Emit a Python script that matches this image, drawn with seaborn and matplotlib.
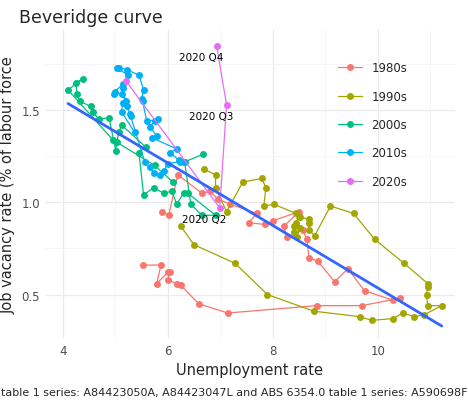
import numpy as np
import pandas as pd
import matplotlib
matplotlib.use("Agg")
import matplotlib.pyplot as plt
import seaborn as sns

# quarterly unemployment rate (%) and job vacancy rate (% of labour force)
u_1980s = [5.52, 5.87, 5.79, 6.0, 6.04, 6.0, 6.17, 6.25, 6.59, 7.14, 8.84, 9.70, 10.42, 10.29,
           9.75, 9.43, 9.18, 8.86, 8.69, 8.65, 8.57, 8.27, 8.21, 8.50, 8.0, 7.85, 7.54, 7.70,
           7.18, 6.95, 6.80, 6.65, 6.19, 6.02, 5.89]
v_1980s = [0.66, 0.66, 0.56, 0.62, 0.62, 0.58, 0.56, 0.55, 0.45, 0.40, 0.44, 0.44, 0.48, 0.47,
           0.52, 0.64, 0.57, 0.68, 0.70, 0.80, 0.85, 0.81, 0.87, 0.95, 0.90, 0.88, 0.89, 0.94,
           0.99, 1.02, 1.06, 1.05, 1.15, 0.93, 0.95]
u_1990s = [6.25, 6.5, 7.28, 7.9, 8.78, 9.66, 9.89, 10.29, 10.48, 10.69, 10.88, 11.22, 10.95,
           10.93, 10.95, 10.95, 10.5, 9.94, 9.54, 9.1, 8.8, 8.69, 8.69, 8.69, 8.51, 8.44, 8.4,
           8.4, 8.46, 8.51, 8.44, 8.02, 7.83, 7.87, 7.79, 7.43, 7.12, 6.91, 6.91, 6.69]
v_1990s = [0.87, 0.77, 0.67, 0.50, 0.41, 0.38, 0.36, 0.37, 0.40, 0.38, 0.39, 0.44, 0.44,
           0.50, 0.54, 0.56, 0.67, 0.80, 0.94, 0.98, 0.82, 0.85, 0.89, 0.91, 0.92, 0.89, 0.87,
           0.84, 0.81, 0.86, 0.94, 0.99, 0.98, 1.08, 1.13, 1.11, 0.95, 1.08, 1.15, 1.18]
u_2000s = [6.67, 6.32, 6.44, 6.65, 6.91, 6.38, 6.30, 6.17, 6.08, 5.92, 5.73, 5.54, 5.45, 5.58,
           5.12, 5.07, 5.03, 5.01, 4.88, 4.69, 4.57, 4.53, 4.32, 4.27, 4.25, 4.38, 4.10, 4.95,
           5.75, 6.10]
v_2000s = [1.26, 1.22, 0.99, 0.93, 0.93, 1.05, 1.05, 0.99, 1.06, 1.05, 1.08, 1.04, 1.27, 1.30,
           1.42, 1.38, 1.33, 1.28, 1.46, 1.45, 1.49, 1.52, 1.55, 1.59, 1.65, 1.67, 1.61, 1.34,
           1.20, 1.11]
u_2010s = [5.37, 5.12, 5.14, 5.2, 5.12, 4.97, 4.99, 5.14, 5.24, 5.03, 5.07, 5.22, 5.45, 5.54,
           5.50, 5.52, 5.6, 5.81, 5.75, 5.66, 5.79, 5.70, 6.17, 6.04, 6.21, 6.30, 6.23, 6.0,
           5.92, 5.85, 5.73, 5.66, 5.56, 5.28, 5.30, 5.22, 5.14]
v_2010s = [1.38, 1.49, 1.54, 1.55, 1.59, 1.59, 1.60, 1.64, 1.69, 1.73, 1.73, 1.72, 1.69, 1.61,
           1.56, 1.55, 1.44, 1.45, 1.44, 1.41, 1.36, 1.35, 1.29, 1.27, 1.23, 1.22, 1.22, 1.21,
           1.17, 1.15, 1.16, 1.19, 1.22, 1.48, 1.47, 1.52, 1.62]
u_2020s = [5.2, 6.99, 7.12, 6.93]
v_2020s = [1.66, 0.97, 1.53, 1.85]
labels_2020 = ["", "2020 Q2", "2020 Q3", "2020 Q4"]

decades = ["1980s", "1990s", "2000s", "2010s", "2020s"]
palette = ["#F8766D", "#A3A500", "#00BF7D", "#00B0F6", "#E76BF3"]

frames = []
for d, u, v in zip(decades, [u_1980s, u_1990s, u_2000s, u_2010s, u_2020s],
                   [v_1980s, v_1990s, v_2000s, v_2010s, v_2020s]):
    frames.append(pd.DataFrame({"unemp": u, "vac": v, "decade": d, "order": range(len(u))}))
df = pd.concat(frames, ignore_index=True)

sns.set_theme(style="whitegrid")
plt.rcParams["font.family"] = ["DejaVu Sans"]

fig = plt.figure(figsize=(4.68, 4.06), dpi=100)
ax = fig.add_axes([0.096, 0.163, 0.876, 0.763])

sns.lineplot(data=df, x="unemp", y="vac", hue="decade", palette=palette, sort=False,
             units="decade", estimator=None, marker="o", markersize=5, markeredgewidth=0,
             linewidth=0.9, ax=ax)
sns.regplot(data=df, x="unemp", y="vac", scatter=False, ci=None, color="#3366FF",
            line_kws={"linewidth": 2}, ax=ax)

for u, v, lab in zip(u_2020s, v_2020s, labels_2020):
    if lab:
        ax.text(u - 0.3, v - 0.06, lab, ha="center", va="center", fontsize=7.5, color="black")

ax.set_xlim(3.66, 11.47)
ax.set_ylim(0.26, 1.94)
ax.set_xticks([4, 6, 8, 10])
ax.set_yticks([0.5, 1.0, 1.5])
ax.set_xticks([5, 7, 9, 11], minor=True)
ax.set_yticks([0.75, 1.25, 1.75], minor=True)
ax.grid(which="major", color="#EBEBEB", linewidth=0.9)
ax.grid(which="minor", color="#F3F3F3", linewidth=0.5)
for s in ax.spines.values():
    s.set_visible(False)
ax.tick_params(axis="both", which="both", length=0, labelsize=8.5, colors="#4D4D4D")

ax.set_xlabel("Unemployment rate", fontsize=10.5)
ax.set_ylabel("Job vacancy rate (% of labour force", fontsize=10.5)
fig.text(0.04, 0.955, "Beveridge curve", fontsize=12.5, va="center")
fig.text(0.5, 0.02, "table 1 series: A84423050A, A84423047L and ABS 6354.0 table 1 series: A590698F",
         ha="center", va="bottom", fontsize=8)

ax.legend(title=None, loc="upper left", bbox_to_anchor=(0.69, 0.93), frameon=False,
          fontsize=8.5, labelspacing=1.3, handlelength=2)

fig.savefig("out.png", dpi=100)
